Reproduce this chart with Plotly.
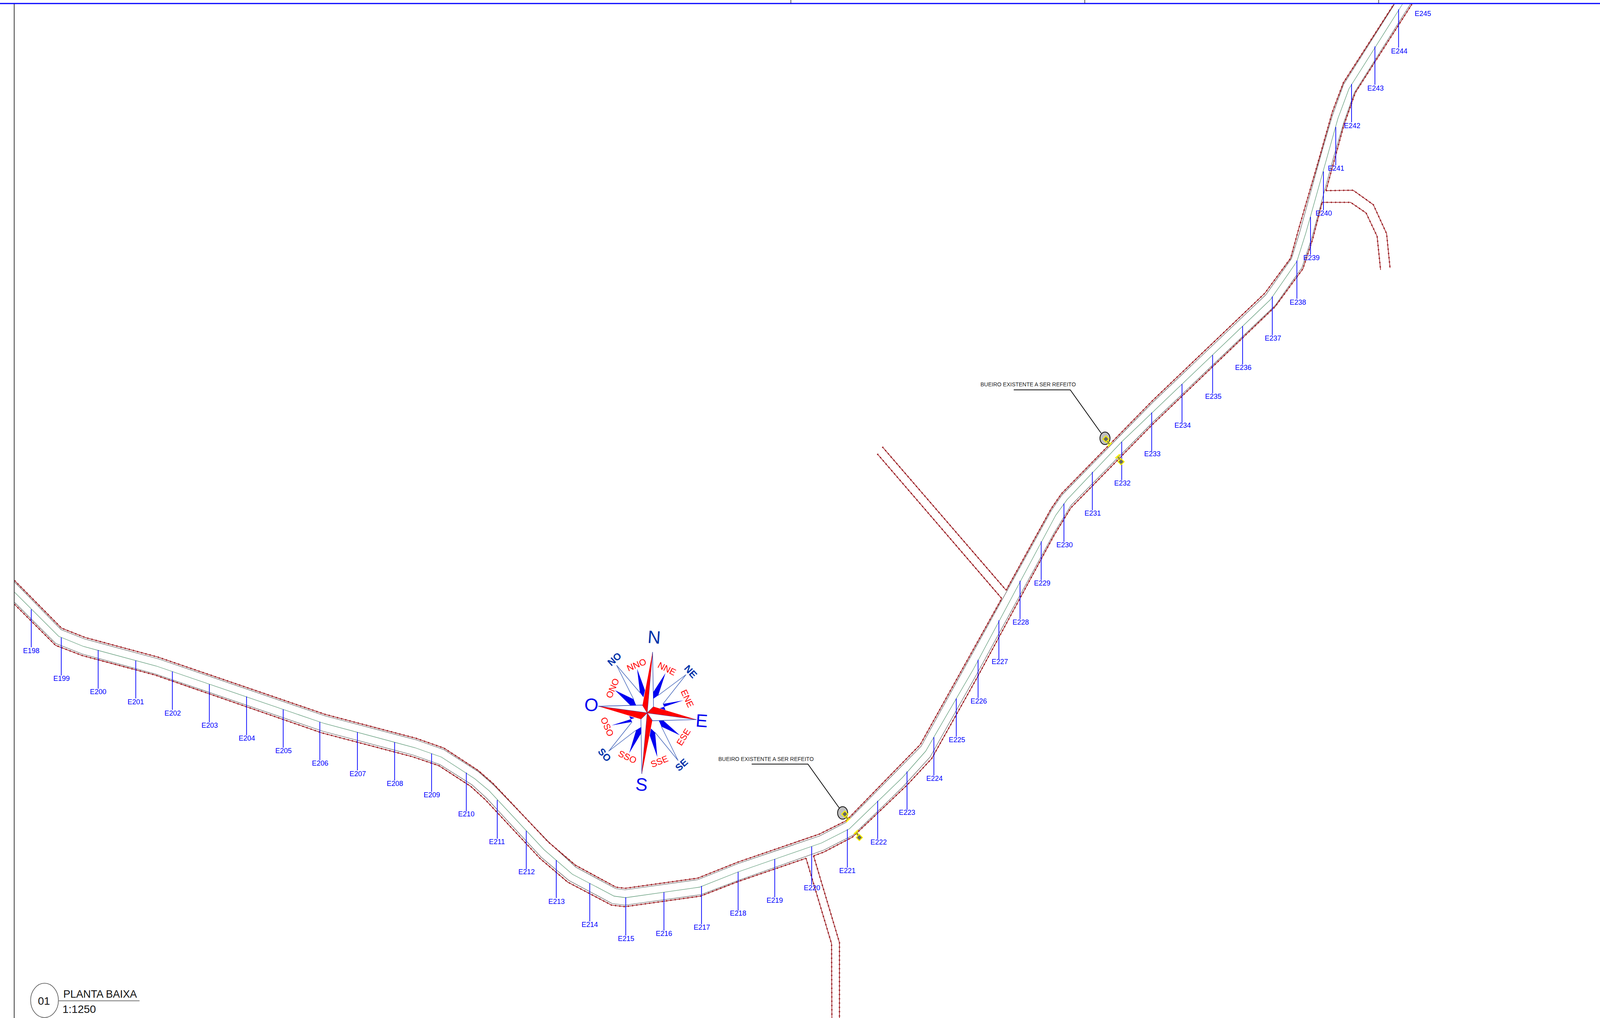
import plotly.graph_objects as go

W, H = 5068, 2606

# ---- road edges ----
red_top_a = [(46,1486),(195,1608),(270,1632),(500,1682),(1031,1829),(1318,1890),(1406,1915),(1514,1972),(1561,2005),(1736,2155),(1823,2215),(1951,2271),(1980,2274),(2210,2248),(2337,2207),(2596,2135),(2680,2101),(2915,1906),(3173,1532)]
red_top_b = [(3187,1511),(3329,1303),(3362,1264),(3650,1026),(4006,751),(4088,661),(4115,582),(4173,421),(4220,287),(4255,212),(4415,11)]
gray_top = [(46,1490),(194,1612),(269,1636),(503,1687),(1031,1833),(1318,1894),(1406,1919),(1516,1976),(1564,2010),(1740,2157),(1824,2220),(1951,2275),(1980,2278),(2210,2252),(2337,2211),(2596,2140),(2680,2105),(2918,1910),(3331,1306),(3364,1267),(3650,1031),(4009,755),(4091,662),(4118,591),(4183,400),(4220,297),(4256,216),(4417,11)]
green_mid = [(46,1516),(186,1629),(265,1655),(495,1705),(1027,1852),(1314,1914),(1398,1938),(1503,1993),(1549,2024),(1723,2175),(1813,2238),(1945,2294),(1982,2298),(2216,2271),(2338,2232),(2602,2158),(2690,2122),(2859,1990),(2932,1923),(3084,1712),(3344,1319),(3380,1279),(3553,1131),(3744,983),(4024,767),(4108,669),(4136,597),(4238,303),(4273,227),(4442,11)]
gray_bot = [(46,1542),(176,1647),(260,1674),(491,1725),(1023,1872),(1309,1933),(1393,1957),(1495,2009),(1541,2043),(1715,2195),(1802,2254),(1939,2313),(1980,2317),(2221,2290),(2341,2253),(2610,2176),(2702,2138),(2859,2015),(2946,1938),(3091,1730),(3339,1364),(3392,1294),(3650,1082),(4039,782),(4124,685),(4155,609),(4225,400),(4257,312),(4290,237),(4467,11)]
red_bot_a = [(46,1547),(176,1652),(260,1678),(491,1728),(1019,1876),(1306,1937),(1390,1960),(1491,2013),(1537,2047),(1711,2198),(1798,2258),(1937,2317),(1980,2321),(2219,2294),(2337,2257),(2553,2197)]
red_bot_b = [(2577,2191),(2610,2181),(2700,2143),(2874,2009),(2951,1942),(3094,1736),(3339,1370),(3392,1300),(3650,1087),(4039,785),(4127,688),(4158,612),(4188,518)]
red_bot_c = [(4200,488),(4230,400),(4257,320),(4293,237),(4472,11)]

# ---- side roads ----
side_s_left = [(2553,2197),(2634,2416),(2635,2606)]
side_s_right = [(2577,2191),(2659,2413),(2659,2606)]
side_nw_low = [(2779,1162),(3173,1532)]
side_nw_up = [(2795,1144),(3187,1511)]
side_e_up = [(4200,488),(4286,487),(4350,524),(4392,598),(4403,686)]
side_e_low = [(4188,518),(4278,518),(4327,545),(4362,605),(4373,691)]

# ---- stations ----
st_names = [f"E{n}" for n in range(198, 246)]
st_x = [99,194,311,430,546,663,781,897,1013,1132,1250,1367,1477,1575,1667,1762,1868,1982,2103,2222,2338,2454,2571,2684,2780,2873,2958,3029,3098,3164,3231,3298,3370,3460,3553,3648,3744,3841,3936,4030,4108,4151,4192,4231,4281,4355,4430,4507]
st_top = [1560,1632,1664,1691,1719,1752,1783,1816,1848,1874,1900,1929,1978,2048,2127,2202,2261,2297,2284,2268,2232,2199,2167,2123,2050,1975,1887,1788,1689,1588,1487,1386,1289,1208,1131,1056,983,909,835,759,667,555,439,325,215,119,24,None]
st_bot = [1657,1729,1763,1788,1817,1849,1882,1914,1946,1972,1998,2027,2077,2147,2225,2299,2359,2395,2382,2366,2331,2297,2265,2221,2148,2073,1985,1886,1787,1687,1585,1485,1387,1306,1229,1155,1082,1007,933,858,765,652,538,423,313,217,122,None]
st_label_x = [99,195,311,430,547,664,782,898,1014,1133,1251,1368,1477,1574,1668,1763,1868,1983,2103,2223,2338,2454,2572,2684,2783,2873,2960,3031,3100,3167,3233,3301,3372,3461,3555,3650,3746,3843,3938,4032,4111,4154,4193,4232,4283,4357,4432,4507]
st_label_y = [1667,1738,1772,1798,1827,1858,1891,1923,1955,1982,2007,2036,2085,2156,2233,2309,2368,2404,2391,2375,2339,2306,2274,2230,2157,2081,1994,1895,1796,1695,1594,1494,1396,1315,1238,1163,1090,1016,942,867,775,661,547,432,323,227,132,36]

# ---- bueiro call-outs ----
note_text = "BUEIRO EXISTENTE A SER REFEITO"
note_text_xy = [(2426,1943),(3256,984)]
note_leaders = [[(2381,1956),(2559,1956),(2658,2068)], [(3211,998),(3390,998),(3488,1109)]]
note_circle_x = [2669,3500]
note_circle_y = [2081,1122]
culvert_diamond_x = [2676,2722,3503,3551]
culvert_diamond_y = [2084,2144,1124,1182]
culvert_stems = [[(2676,2084),(2687,2100)],[(2722,2144),(2712,2130)],[(3503,1124),(3515,1138)],[(3551,1182),(3540,1168)]]
culvert_bars = [[(2680,2104),(2693,2094)],[(2705,2135),(2718,2125)],[(3509,1143),(3521,1133)],[(3533,1173),(3547,1163)]]

# ---- compass rose ----
rose_red = [
    [(2067,1669),(2035,1806),(2050,1825)],
    [(2206,1842),(2070,1809),(2050,1825)],
    [(2033,1981),(2066,1845),(2050,1825)],
    [(1895,1808),(2030,1841),(2050,1825)],
]
rose_white = [
    [(2067,1669),(2070,1809),(2050,1825)],
    [(2206,1842),(2067,1845),(2050,1825)],
    [(2033,1981),(2030,1841),(2050,1825)],
    [(1895,1808),(2035,1805),(2050,1825)],
]
rose_blue = [
    [(2108,1723),(2069,1772),(2069,1789),(2085,1780)],
    [(2018,1712),(2027,1773),(2038,1785),(2043,1767)],
    [(1948,1767),(1997,1806),(2015,1806),(2007,1790)],
    [(2164,1793),(2090,1813),(2108,1818),(2100,1802)],
    [(2153,1882),(2102,1845),(2087,1845),(2095,1860)],
    [(2082,1938),(2075,1875),(2062,1865),(2058,1883)],
    [(1993,1928),(2031,1877),(2031,1861),(2015,1869)],
    [(1937,1857),(2010,1838),(1993,1833),(2002,1848)],
]
rose_thin = [
    [(2085,1780),(2173,1727),(2100,1802)],
    [(2075,1875),(2148,1947),(2095,1860)],
    [(2002,1848),(1928,1923),(2015,1869)],
    [(2027,1773),(1953,1703),(2007,1790)],
]
rose_main_labels = [("N",2072,1631,4,"#0033aa"),("E",2223,1845,4,"#0000f0"),("S",2032,2008,4,"#0000f0"),("O",1873,1804,4,"#0000f0")]
rose_mid_labels = [("NO",1946,1687,-42),("NE",2188,1719,48),("SE",2158,1958,-42),("SO",1915,1932,48)]
rose_minor_labels = [("NNE",2113,1712,27),("NNO",2016,1702,-22),("ONO",1940,1762,-67),("ENE",2177,1788,65),("OSO",1923,1860,67),("ESE",2165,1887,-58),("SSE",2089,1949,-22),("SSO",1988,1938,25)]

# ---- frame and title ----
frame_left = [(45,9),(45,2606)]
frame_top = [(0,9),(5068,9)]
top_tick_x = [2505,3436,4367]
title_rule = [(186,2562),(442,2562)]
title_circle = (141,2561)

RED, GRAY, GREEN, BLUE = "#9c1f24", "#5a5a5a", "#5f9a78", "#0000ff"

fig = go.Figure()


def line(points, color, width, dash=None):
    fig.add_trace(go.Scatter(x=[p[0] for p in points], y=[p[1] for p in points], mode="lines",
                             line=dict(color=color, width=width, dash=dash), hoverinfo="skip", showlegend=False))


def poly(points, fill, edge=None, width=0.0):
    fig.add_trace(go.Scatter(x=[p[0] for p in points] + [points[0][0]], y=[p[1] for p in points] + [points[0][1]],
                             mode="lines", fill="toself", fillcolor=fill,
                             line=dict(color=edge or fill, width=width), hoverinfo="skip", showlegend=False))


for edge in (gray_top, gray_bot):
    line(edge, GRAY, 1.2)
line(green_mid, GREEN, 1.3)
for edge in (red_top_a, red_top_b, red_bot_a, red_bot_b, red_bot_c, side_s_left, side_s_right,
             side_nw_low, side_nw_up, side_e_up, side_e_low):
    line(edge, RED, 1.7)
    line(edge, RED, 3.6, "3px,8px")

for x, t, b in zip(st_x, st_top, st_bot):
    if t is not None:
        line([(x, t), (x, b)], BLUE, 1.8)
fig.add_trace(go.Scatter(x=st_label_x, y=st_label_y, text=st_names, mode="text", textposition="middle center",
                         textfont=dict(family="Liberation Sans", size=18, color=BLUE), hoverinfo="skip", showlegend=False))

line(frame_left, "#444444", 2.2)
line(frame_top, BLUE, 3.2)
for x in top_tick_x:
    line([(x, 0), (x, 8)], "#222222", 1.5)

for leader in note_leaders:
    line(leader, "#111111", 2)
for stem, bar in zip(culvert_stems, culvert_bars):
    line(stem, "#f5ee00", 6)
    line(stem, "#666666", 2.5)
    line(bar, "#f5ee00", 3.5)
fig.add_trace(go.Scatter(x=culvert_diamond_x, y=culvert_diamond_y, mode="markers",
                         marker=dict(symbol="diamond", size=12, color="#666666", line=dict(color="#f5ee00", width=2.5)),
                         hoverinfo="skip", showlegend=False))

for p in rose_white:
    poly(p, "#ffffff", "#1f3fb0", 1.3)
for p in rose_thin:
    line(p, "#4466bb", 1.5)
for p in rose_blue:
    poly(p, "#0000f0")
for p in rose_red:
    poly(p, "#ff0000")

ann = []


def label(text, x, y, size, color, angle=0, family="Liberation Sans", xanchor="center"):
    ann.append(dict(x=x, y=y, xref="x", yref="y", text=text, showarrow=False, textangle=angle, xanchor=xanchor,
                    yanchor="middle", align="center", font=dict(family=family, size=size, color=color)))


for t, x, y, a, c in rose_main_labels:
    label(t, x, y, 46, c, a)
for t, x, y, a in rose_mid_labels:
    label(f"<b>{t}</b>", x, y, 25, "#0033aa", a)
for t, x, y, a in rose_minor_labels:
    label(t, x, y, 23, "#ff0000", a)
for x, y in note_text_xy:
    label(note_text, x, y, 14, "#222222")

line(title_rule, "#777777", 2)
label("01", 139, 2562, 28, "#111111")
label("PLANTA BAIXA", 198, 2545, 27, "#111111", xanchor="left")
label("1:1250", 196, 2583, 28, "#111111", xanchor="left")

shapes = []
for cx, cy in zip(note_circle_x, note_circle_y):
    shapes.append(dict(type="circle", xref="x", yref="y", x0=cx - 16, x1=cx + 16, y0=cy - 16, y1=cy + 16,
                       fillcolor="#bfbfbf", line=dict(color="#111111", width=2), layer="below"))
shapes.append(dict(type="circle", xref="x", yref="y", x0=title_circle[0] - 44, x1=title_circle[0] + 44,
                   y0=title_circle[1] - 44, y1=title_circle[1] + 44, line=dict(color="#555555", width=1.6), layer="below"))

fig.update_layout(
    margin=dict(l=0, r=0, t=0, b=0),
    paper_bgcolor="white", plot_bgcolor="white", showlegend=False, annotations=ann, shapes=shapes,
    xaxis=dict(range=[0, W], visible=False, fixedrange=True),
    yaxis=dict(range=[H, 0], visible=False, fixedrange=True),
)
# The browser window may be narrower than asked for: fill whatever it really gives.
fig.write_html("out.html", config=dict(displayModeBar=False), post_script="""
document.body.style.margin='0';
var gd=document.getElementsByClassName('plotly-graph-div')[0];
Plotly.relayout(gd,{width:window.innerWidth,height:window.innerHeight});
""")
